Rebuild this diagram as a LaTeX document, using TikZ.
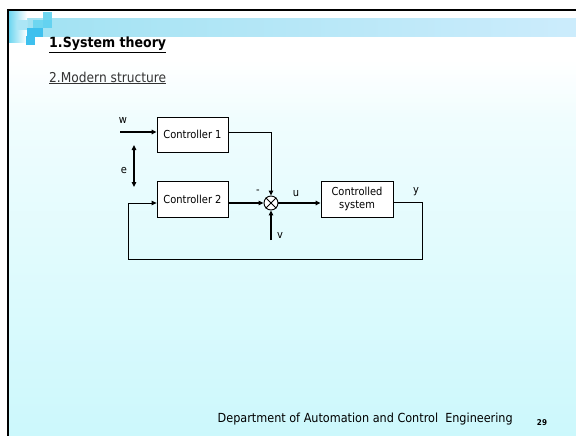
\documentclass[tikz,border=0pt]{standalone}
\usepackage{fontspec}
\setmainfont{DejaVu Sans Condensed}
\usetikzlibrary{arrows.meta,calc}
\definecolor{bgbottom}{RGB}{204,248,252}
\definecolor{bandL}{RGB}{160,226,242}
\definecolor{bandR}{RGB}{204,236,252}
\definecolor{sqA}{RGB}{62,192,238}
\definecolor{sqB}{RGB}{110,214,240}
\definecolor{sqC}{RGB}{172,230,246}
\tikzset{
  block/.style={draw, line width=0.8pt, fill=white, inner sep=0pt, font=\fontsize{11}{12.5}\selectfont, align=center},
  lbl/.style={font=\fontsize{11}{12}\selectfont, inner sep=0pt},
  sig/.style={line width=1.6pt, -{Triangle[length=5pt,width=4.5pt]}},
  thin sig/.style={line width=0.9pt, -{Triangle[length=5pt,width=4.5pt]}},
  wire/.style={line width=0.9pt},
}
\begin{document}
\begin{tikzpicture}[x=1pt,y=-1pt]
\useasboundingbox (0,0) rectangle (576,436);
% slide background
\fill[white] (8,10) rectangle (576,60);
\shade[top color=white, bottom color=white!70!bgbottom] (8,60) rectangle (576,120);
\shade[top color=white!70!bgbottom, bottom color=bgbottom] (8,120) rectangle (576,436);
% header band
\shade[left color=bandL, right color=bandR] (8,19) rectangle (576,37);
% corner squares
\shade[left color=sqB, right color=white] (9,12) rectangle (27,43);
\fill[sqC] (17,20) rectangle (27,30);
\fill[sqA] (26,36) rectangle (35,45);
\fill[sqA] (27,28) rectangle (35,37);
\fill[sqA] (35,28) rectangle (43,37);
\fill[sqB] (33,20) rectangle (43,28);
\fill[sqB!80!sqA] (43,20) rectangle (52,28);
\fill[sqB] (43,12) rectangle (52,20);
% frame lines
\draw[line width=2pt] (8,10) -- (576,10);
\draw[line width=2pt] (8,9) -- (8,436);
% headings
\node[anchor=west, inner sep=0pt, font=\bfseries\fontsize{14}{15}\selectfont] (t1) at (49,45) {\underline{1.System theory}};
\node[anchor=west, inner sep=0pt, font=\fontsize{13.6}{15}\selectfont, text=black!80] (t2) at (49,78) {\underline{2.Modern structure}};
% blocks
\node[block, minimum width=71pt, minimum height=35pt] (c1) at (192.5,134.5) {Controller 1};
\node[block, minimum width=71pt, minimum height=36pt] (c2) at (192.5,199) {Controller 2};
\node[block, minimum width=72pt, minimum height=36pt] (pl) at (357,199) {Controlled\\system};
\node[draw, circle, line width=0.9pt, minimum size=14pt, inner sep=0pt, fill=white] (sum) at (271,203) {};
\draw[line width=0.9pt] (sum.north west) -- (sum.south east) (sum.north east) -- (sum.south west);
% free ends
\coordinate (win) at (120,132);
\coordinate (vin) at (271,240);
\coordinate (eT) at (134,145);
\coordinate (eB) at (134,187);
\coordinate (fbR) at (422,202);
\coordinate (fbL) at (128,259);
% connectors
\draw[sig] (win) -- (c1.west |- win);
\draw[line width=1.6pt, {Triangle[length=5pt,width=4.5pt]}-{Triangle[length=5pt,width=4.5pt]}] (eT) -- (eB);
\draw[thin sig] (c1.east |- 0,132) -| (sum.north);
\draw[sig] (c2.east |- sum) -- (sum.west);
\draw[sig] (vin) -- (sum.south);
\draw[sig] (sum.east) -- (pl.west |- sum);
\draw[wire] (pl.east |- fbR) -- (fbR) |- (fbL);
\draw[thin sig] (fbL) |- (c2.west |- sum);
% signal labels
\node[lbl] (lw) at (123,120) {w};
\node[lbl] (le) at (124,170) {e};
\node[lbl] (lm) at (258,192) {-};
\node[lbl] (lu) at (296,193) {u};
\node[lbl] (lv) at (280,235) {v};
\node[lbl] (ly) at (416,192) {y};
% footer
\node[anchor=east, inner sep=0pt, font=\fontsize{12.5}{14}\selectfont] (foot) at (513,419) {Department of Automation and Control\ \ Engineering};
\node[inner sep=0pt, font=\bfseries\fontsize{8}{9}\selectfont] (pg) at (542,423) {29};
\end{tikzpicture}
\end{document}
